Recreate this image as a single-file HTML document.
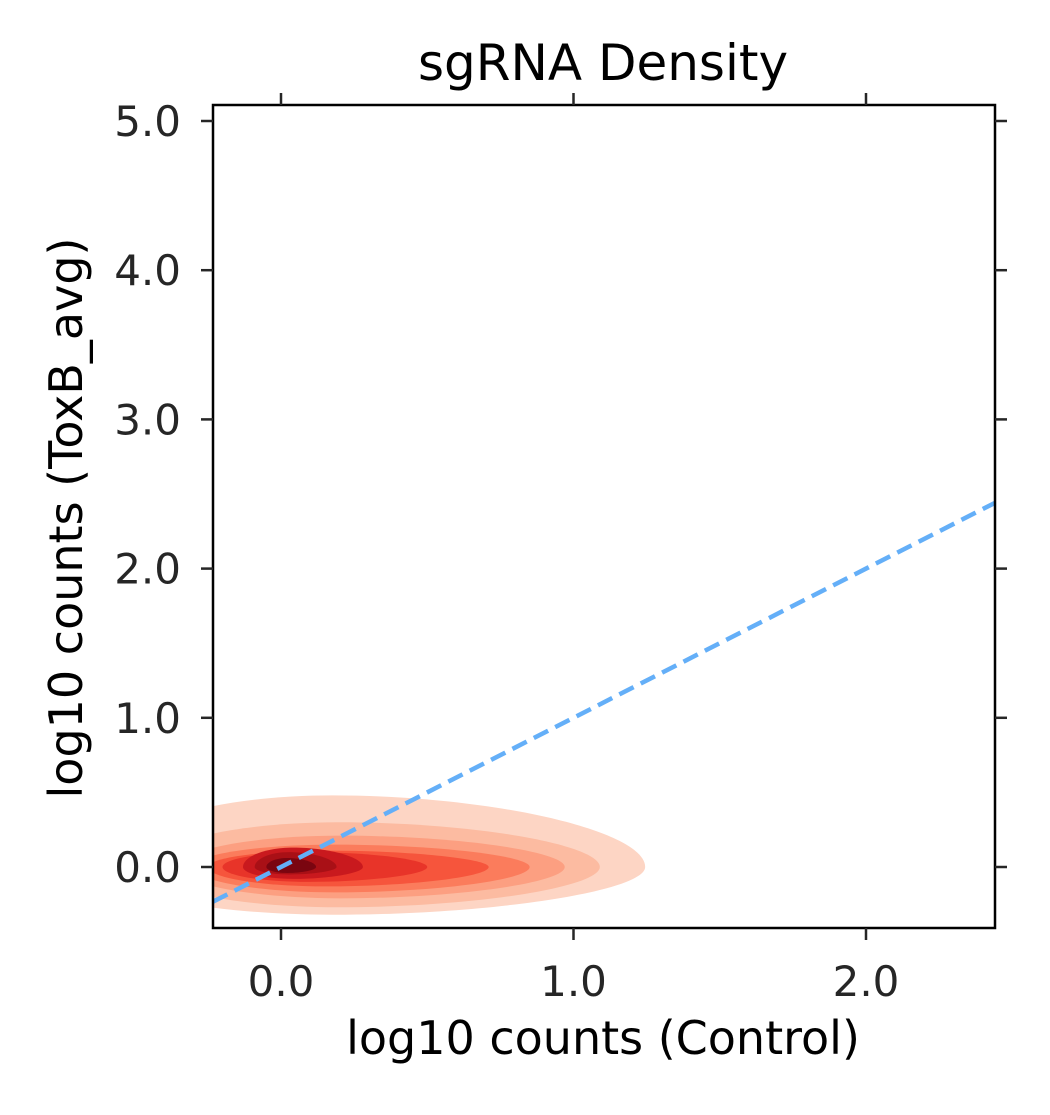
<!DOCTYPE html>
<html><head><meta charset="utf-8"><style>
html,body{margin:0;padding:0;background:#fff;}
svg text{font-family:"DejaVu Sans","Liberation Sans",sans-serif;fill:#262626;}
</style></head><body>
<svg id="chart" width="1050" height="1110" viewBox="0 0 1050 1110" xmlns="http://www.w3.org/2000/svg">
<defs><clipPath id="plotclip"><rect x="213" y="105" width="782" height="823"/></clipPath></defs>
<rect width="1050" height="1110" fill="#fff"/>
<g id="contours" clip-path="url(#plotclip)"></g>
<line id="diag" stroke="#64aff8" stroke-width="4.5" stroke-dasharray="16,8" clip-path="url(#plotclip)"/>
<rect x="213" y="105" width="782" height="823" fill="none" stroke="#000" stroke-width="2.5"/>
<g id="ticks"></g>
<text x="603" y="80" style="font-size:50px;fill:#000" text-anchor="middle">sgRNA Density</text>
<text x="603" y="1054" style="font-size:46px;fill:#000" text-anchor="middle">log10 counts (Control)</text>
<text transform="translate(82,518) rotate(-90)" style="font-size:46px;fill:#000" text-anchor="middle">log10 counts (ToxB_avg)</text>
</svg>
<script>
const xTicks=[0,1,2];
const yTicks=[0,1,2,3,4,5];
const levelColors=["#fdd5c4","#fcbba1","#fc9f81","#fb7c5c","#f6553c","#e83429","#c9191e","#a91016","#7a0510"];
const levelLeft=[-0.6,-0.45,-0.35,-0.3,-0.25,-0.2,-0.13,-0.09,-0.05];
const levelRight=[1.245,1.09,0.97,0.85,0.71,0.5,0.28,0.19,0.12];
const levelTop=[0.48,0.30,0.21,0.15,0.11,0.10,0.13,0.10,0.06];
const levelBottom=[-0.32,-0.27,-0.21,-0.17,-0.13,-0.10,-0.08,-0.05,-0.04];
const lineRange=[-0.232,2.44];
const NS="http://www.w3.org/2000/svg";
const sx=v=>281+v*292.5;
const sy=v=>867-v*149.2;
const g=document.getElementById('contours');
for(let i=0;i<levelColors.length;i++){
  const lx=sx(levelLeft[i]),rx=sx(levelRight[i]),cy=sy(0);
  const ty=sy(levelTop[i]),by=sy(levelBottom[i]);
  const w=rx-lx,px=lx+0.42*w;
  const d=`M${rx},${cy} C${rx},${cy+(ty-cy)*0.5} ${px+0.3*w},${ty} ${px},${ty} `+
    `C${lx+(px-lx)*0.45},${ty} ${lx},${cy+(ty-cy)*0.55} ${lx},${cy} `+
    `C${lx},${cy+(by-cy)*0.55} ${lx+(px-lx)*0.45},${by} ${px},${by} `+
    `C${px+0.3*w},${by} ${rx},${cy+(by-cy)*0.5} ${rx},${cy}Z`;
  const p=document.createElementNS(NS,'path');
  p.setAttribute('d',d);
  p.setAttribute('fill',levelColors[i]);
  
  
  g.appendChild(p);
}
const dl=document.getElementById('diag');
dl.setAttribute('x1',sx(lineRange[0]));dl.setAttribute('y1',sy(lineRange[0]));
dl.setAttribute('x2',sx(lineRange[1]));dl.setAttribute('y2',sy(lineRange[1]));
const t=document.getElementById('ticks');
function mk(tag,attrs){const e=document.createElementNS(NS,tag);for(const k in attrs)e.setAttribute(k,attrs[k]);t.appendChild(e);return e;}
xTicks.forEach(v=>{
  const x=sx(v);
  const a=mk('line',{x1:x,x2:x,y1:928,y2:940,stroke:'#262626','stroke-width':2.5});
  
  
  const b=mk('line',{x1:x,x2:x,y1:105,y2:93,stroke:'#262626','stroke-width':2.5});
  
  
  const l=mk('text',{x:x,y:996,'text-anchor':'middle'});
  l.style.fontSize='42px';
  l.textContent=v.toFixed(1);
  
  
});
yTicks.forEach(v=>{
  const y=sy(v);
  const a=mk('line',{x1:213,x2:201,y1:y,y2:y,stroke:'#262626','stroke-width':2.5});
  
  
  const b=mk('line',{x1:995,x2:1007,y1:y,y2:y,stroke:'#262626','stroke-width':2.5});
  
  
  const l=mk('text',{x:181,y:y+15,'text-anchor':'end'});
  l.style.fontSize='42px';
  l.textContent=v.toFixed(1);
  
  
});
</script>
</body></html>
